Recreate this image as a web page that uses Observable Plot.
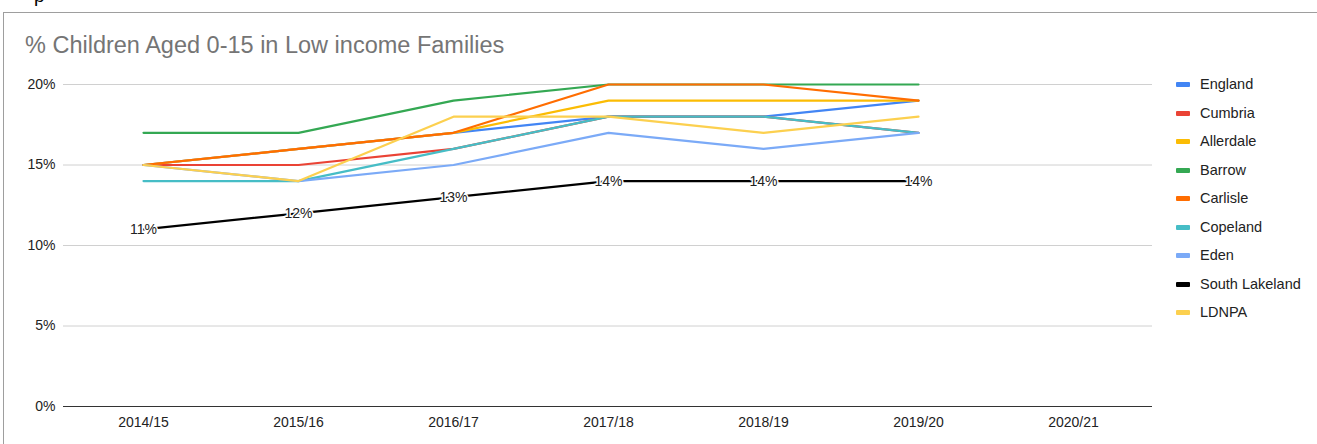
<!DOCTYPE html>
<html>
<head>
<meta charset="utf-8">
<script src="https://cdn.jsdelivr.net/npm/d3@7"></script>
<script src="https://cdn.jsdelivr.net/npm/@observablehq/plot@0.6"></script>
<style>
  html, body { margin: 0; padding: 0; background: #fff; }
  body { font-family: "Liberation Sans", Arial, sans-serif; }
  #wrap { position: relative; width: 1317px; height: 444px; overflow: hidden; }
  #frame { position: absolute; left: 3px; top: 12px; width: 1320px; height: 440px;
           border-left: 1px solid #9e9e9e; border-top: 1px solid #9e9e9e; }
  #cut { position: absolute; left: 34px; top: -15px; font-size: 19px; color: #000; }
  #title { position: absolute; left: 25px; top: 34px; font-size: 23.5px; line-height: 1; color: #757575; white-space: nowrap; }
  #chart { position: absolute; left: 0; top: 0; }
  #legend { position: absolute; left: 1176px; top: 76px; font-size: 14.5px; color: #222; }
  .item { height: 28.5px; line-height: 17px; display: flex; align-items: flex-start; }
  .sw { width: 14px; height: 5px; margin-top: 6px; margin-right: 10px; border-radius: 1px; }
</style>
</head>
<body>
<div id="wrap">
  <div id="frame"></div>
  <div id="cut">p</div>
  <div id="title">% Children Aged 0-15 in Low income Families</div>
  <div id="chart"></div>
  <div id="legend"></div>
</div>
<script>
const years = ["2014/15", "2015/16", "2016/17", "2017/18", "2018/19", "2019/20", "2020/21"];
const seriesNames = ["England", "Cumbria", "Allerdale", "Barrow", "Carlisle", "Copeland", "Eden", "South Lakeland", "LDNPA"];
const colors = ["#4285f4", "#ea4335", "#fbbc04", "#34a853", "#ff6d01", "#46bdc6", "#7baaf7", "#000000", "#fcd04f"];
const england       = [15, 16, 17, 18, 18, 19];
const cumbria       = [15, 15, 16, 18, 18, 17];
const allerdale     = [15, 16, 17, 19, 19, 19];
const barrow        = [17, 17, 19, 20, 20, 20];
const carlisle      = [15, 16, 17, 20, 20, 19];
const copeland      = [14, 14, 16, 18, 18, 17];
const eden          = [15, 14, 15, 17, 16, 17];
const southLakeland = [11, 12, 13, 14, 14, 14];
const ldnpa         = [15, 14, 18, 18, 17, 18];
const yTicks = [0, 5, 10, 15, 20];

const allValues = [england, cumbria, allerdale, barrow, carlisle, copeland, eden, southLakeland, ldnpa];
const rows = [];
seriesNames.forEach((name, i) => {
  allValues[i].forEach((v, j) => rows.push({series: name, year: years[j], value: v, order: i}));
});
const slRows = rows.filter(d => d.series === "South Lakeland");

const plot = Plot.plot({
  width: 1317,
  height: 444,
  marginTop: 84,
  marginBottom: 38,
  marginLeft: 63,
  marginRight: 165,
  style: {fontFamily: "Liberation Sans, Arial, sans-serif", fontSize: "14px", color: "#222", background: "transparent"},
  x: {type: "point", domain: years, padding: 0.5, label: null},
  y: {domain: [0, 20], label: null},
  color: {domain: seriesNames, range: colors},
  marks: [
    Plot.gridY(yTicks, {stroke: "#d0d0d0", strokeOpacity: 1, strokeWidth: 1}),
    Plot.axisY({ticks: yTicks, tickSize: 0, tickPadding: 8, tickFormat: d => d + "%", label: null, fontSize: 14}),
    Plot.axisX({tickSize: 0, tickPadding: 11, label: null, fontSize: 14}),
    Plot.ruleY([0], {stroke: "#333", strokeWidth: 1}),
    ...seriesNames.map(name => Plot.line(rows.filter(d => d.series === name), {
      x: "year", y: "value", stroke: "series", strokeWidth: 2.2, curve: "linear"
    })),
    Plot.text(slRows, {x: "year", y: "value", text: d => d.value + "%", fill: "#222",
      stroke: "white", strokeWidth: 3, fontSize: 14, textAnchor: "middle"})
  ]
});
document.getElementById("chart").appendChild(plot);

const legend = document.getElementById("legend");
seriesNames.forEach((name, i) => {
  const item = document.createElement("div");
  item.className = "item";
  const sw = document.createElement("div");
  sw.className = "sw";
  sw.style.background = colors[i];
  const lab = document.createElement("span");
  lab.textContent = name;
  item.appendChild(sw);
  item.appendChild(lab);
  legend.appendChild(item);
});
</script>
</body>
</html>
